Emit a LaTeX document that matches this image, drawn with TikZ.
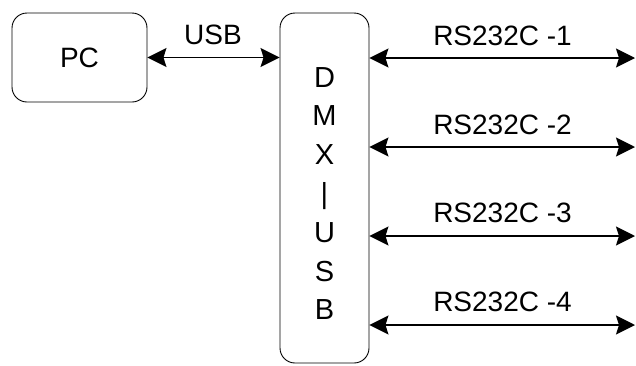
\documentclass[tikz,border=0pt]{standalone}
\usepackage{fontspec}
\setmainfont{Liberation Sans}
\usetikzlibrary{arrows.meta}
\begin{document}
\begin{tikzpicture}[x=1pt,y=-1pt,
  box/.style={draw=black,line width=0.9pt,rounded corners=15pt,inner sep=0pt},
  lbl/.style={font=\fontsize{28}{34}\selectfont,inner sep=0pt},
  arr/.style={line width=1.6pt,{Stealth[length=19pt,width=19pt,inset=3pt]}-{Stealth[length=19pt,width=19pt,inset=3pt]}}]
\useasboundingbox (0,0) rectangle (636,365);
\node[box,minimum width=135pt,minimum height=89pt] (pc) at (79.5,57.5) {};
\node[lbl] (pclbl) at (pc.center) {PC};
\node[box,minimum width=89pt,minimum height=350pt] (dmx) at (324.5,188) {};
\node[inner sep=0pt,align=center,font=\fontsize{29}{38.8}\selectfont] (dmxlbl) at (324.5,193.5) {D\\M\\X\\|\\U\\S\\B};
\draw[arr] (pc.east) -- (dmx.west |- pc.east);
\node[lbl] (usb) at (213,35) {USB};
\coordinate (e1) at (635,58);
\coordinate (e2) at (635,147);
\coordinate (e3) at (635,236);
\coordinate (e4) at (635,325);
\draw[arr] (dmx.east |- e1) -- (e1);
\draw[arr] (dmx.east |- e2) -- (e2);
\draw[arr] (dmx.east |- e3) -- (e3);
\draw[arr] (dmx.east |- e4) -- (e4);
\node[lbl] (l1) at (502.5,36) {RS232C -1};
\node[lbl] (l2) at (502.5,124.5) {RS232C -2};
\node[lbl] (l3) at (502.5,213) {RS232C -3};
\node[lbl] (l4) at (502.5,302) {RS232C -4};
\end{tikzpicture}
\end{document}
